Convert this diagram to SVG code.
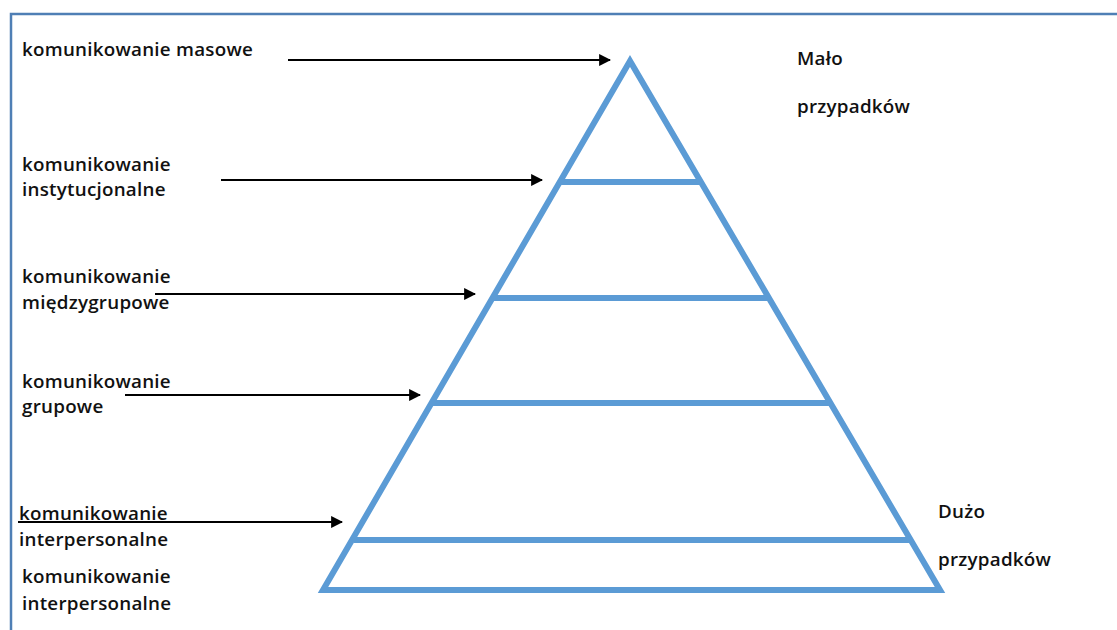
<svg xmlns="http://www.w3.org/2000/svg" width="1117" height="630" viewBox="0 0 1117 630">
<defs>
<marker id="ah" viewBox="0 0 10 10" refX="9" refY="5" markerWidth="5.5" markerHeight="5.5" orient="auto" markerUnits="strokeWidth">
<path d="M0,0 L10,5 L0,10 z" fill="#000"/>
</marker>
<style>
.t{font-family:"Open Sans","Liberation Sans",sans-serif;font-weight:600;font-size:18.8px;letter-spacing:0.25px;fill:#111}
.pyr{fill:none;stroke:#5b9bd5;stroke-width:6;stroke-linejoin:miter}
.arr{stroke:#000;stroke-width:2.2;fill:none;marker-end:url(#ah)}
.frame{stroke:#4f7fb5;stroke-width:2.5;fill:none}
</style>
</defs>
<rect width="1117" height="630" fill="#fff"/>
<path class="frame" d="M11,630 L11,14 L1117,14"/>
<g id="pyramid">
<path class="pyr" d="M630,61 L323,590 L940,590 Z"/>
<line class="pyr" x1="560" y1="182" x2="700" y2="182"/>
<line class="pyr" x1="493" y1="298" x2="768" y2="298"/>
<line class="pyr" x1="432" y1="403" x2="830" y2="403"/>
<line class="pyr" x1="354" y1="540" x2="910" y2="540"/>
</g>
<g id="connectors">
<line class="arr" x1="288" y1="60" x2="610" y2="60"/>
<line class="arr" x1="221" y1="180" x2="542" y2="180"/>
<line class="arr" x1="155" y1="294" x2="475" y2="294"/>
<line class="arr" x1="125" y1="395" x2="420" y2="395"/>
<line class="arr" x1="18" y1="522" x2="342" y2="522"/>
</g>
<g id="label-masowe"><text class="t" x="22" y="56">komunikowanie masowe</text></g>
<g id="label-instytucjonalne"><text class="t" x="22" y="171">komunikowanie</text><text class="t" x="22" y="196">instytucjonalne</text></g>
<g id="label-miedzygrupowe"><text class="t" x="22" y="283">komunikowanie</text><text class="t" x="22" y="309">międzygrupowe</text></g>
<g id="label-grupowe"><text class="t" x="22" y="388">komunikowanie</text><text class="t" x="22" y="413">grupowe</text></g>
<g id="label-interpersonalne1"><text class="t" x="19" y="520">komunikowanie</text><text class="t" x="19" y="546">interpersonalne</text></g>
<g id="label-interpersonalne2"><text class="t" x="22" y="583">komunikowanie</text><text class="t" x="22" y="610">interpersonalne</text></g>
<g id="label-malo"><text class="t" x="797" y="65">Mało</text><text class="t" x="797" y="113">przypadków</text></g>
<g id="label-duzo"><text class="t" x="938" y="518">Dużo</text><text class="t" x="938" y="566">przypadków</text></g>
</svg>
